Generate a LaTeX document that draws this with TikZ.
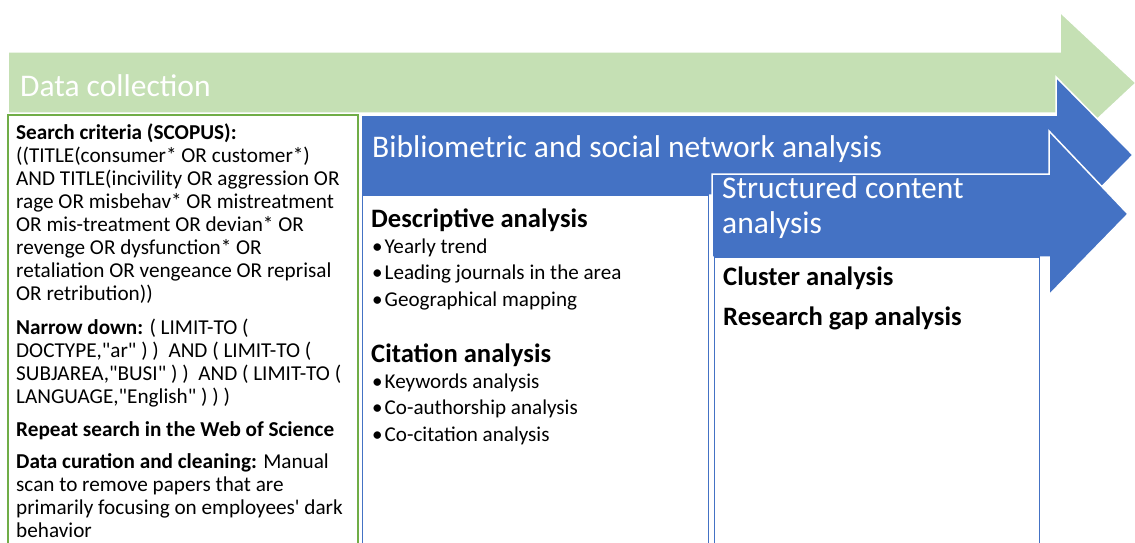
\documentclass[tikz,border=0pt]{standalone}
\usepackage{fontspec}
\setmainfont{Carlito}[Ligatures=TeXOff]
\definecolor{gfill}{HTML}{C5E0B4}
\definecolor{gline}{HTML}{70AD47}
\definecolor{bfill}{HTML}{4472C4}
\begin{document}
\begin{tikzpicture}[x=1pt,y=-1pt,
  arrowshape/.style={line width=1.5pt,draw=white,line join=miter},
  title/.style={anchor=base west,inner sep=0pt,text=white,align=left,font=\fontsize{31.5}{35}\selectfont},
  body/.style={anchor=base west,inner sep=0pt,align=left,font=\fontsize{21.2}{23}\selectfont},
  head/.style={anchor=base west,inner sep=0pt,align=left,font=\fontsize{26.6}{30}\selectfont\bfseries},
  bullets/.style={anchor=base west,inner sep=0pt,align=left,font=\fontsize{21.1}{26.5}\selectfont},
  box/.style={fill=white,line width=1.3pt}]
\useasboundingbox (0,0) rectangle (1135,543);
% green arrow and box
\fill[gfill,arrowshape] (8,52) -- (1060,52) -- (1060,12) -- (1136,83) -- (1060,154) -- (1060,113) -- (8,113) -- cycle;
\draw[box,draw=gline,line width=2pt] (8,115) rectangle (357.5,560);
% blue arrow 1 and box
\fill[bfill,arrowshape] (361,115) -- (1056,115) -- (1056,77) -- (1133,155) -- (1056,233) -- (1056,195) -- (361,195) -- cycle;
\draw[box,draw=bfill] (362.5,195) rectangle (708.5,560);
% blue arrow 2 and box
\fill[bfill,arrowshape] (712,174) -- (1049,174) -- (1049,131) -- (1128,214) -- (1049,295) -- (1049,257) -- (712,257) -- cycle;
\draw[box,draw=bfill] (714.5,257) rectangle (1039.5,560);
% titles (multi-line nodes are placed at the baseline of their last line)
\node[title] (t1) at (20,96) {Data collection};
\node[title] (t2) at (372,157) {Bibliometric and social network analysis};
\node[title] (t3) at (722,233) {Structured content\\analysis};
% left column
\node[body] (p1) at (16,300) {\textbf{Search criteria (SCOPUS):}\\
((TITLE(consumer* OR customer*)\\
AND TITLE(incivility OR aggression OR\\
rage OR misbehav* OR mistreatment\\
OR mis-treatment OR devian* OR\\
revenge OR dysfunction* OR\\
retaliation OR vengeance OR reprisal\\
OR retribution))};
\node[body] (p2) at (16,403) {\textbf{Narrow down:} ( LIMIT-TO (\\
DOCTYPE,"ar" ) ) \ AND ( LIMIT-TO (\\
SUBJAREA,"BUSI" ) ) \ AND ( LIMIT-TO (\\
LANGUAGE,"English" ) ) )};
\node[body] (p3) at (16,436) {\textbf{Repeat search in the Web of Science}};
\node[body] (p4) at (16,537) {\textbf{Data curation and cleaning:} Manual\\
scan to remove papers that are\\
primarily focusing on employees' dark\\
behavior};
% middle column
\node[head] (h1) at (371,227) {Descriptive analysis};
\node[bullets] (b1) at (372,306) {\textbullet\hspace{2pt}Yearly trend\\
\textbullet\hspace{2pt}Leading journals in the area\\
\textbullet\hspace{2pt}Geographical mapping};
\node[head] (h2) at (371,362) {Citation analysis};
\node[bullets] (b2) at (372,441) {\textbullet\hspace{2pt}Keywords analysis\\
\textbullet\hspace{2pt}Co-authorship analysis\\
\textbullet\hspace{2pt}Co-citation analysis};
% right column
\node[head] (h3) at (723,285) {Cluster analysis};
\node[head] (h4) at (723,325) {Research gap analysis};
\end{tikzpicture}
\end{document}
